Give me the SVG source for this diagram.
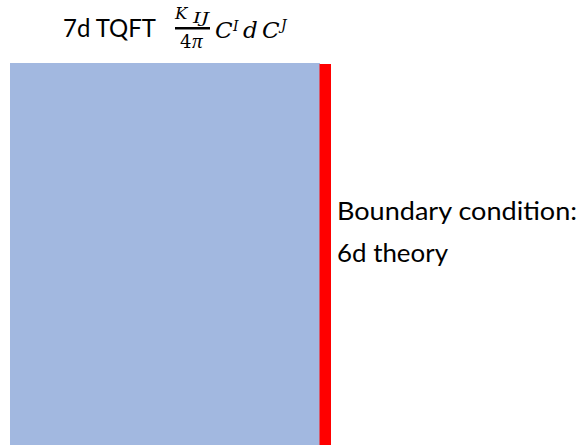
<svg xmlns="http://www.w3.org/2000/svg" width="581" height="445" viewBox="0 0 581 445">
<style>
.lbl{font-family:"Lato","Liberation Sans",sans-serif;font-size:25px;fill:#000}
.m{font-family:"DejaVu Serif","Liberation Serif",serif;font-style:italic;fill:#000}
</style>
<rect width="581" height="445" fill="#fff"/>
<g id="bulk"><rect x="10" y="63" width="310" height="382" fill="#A2B8E0"/></g>
<g id="boundary"><rect x="319.5" y="64" width="11.5" height="381" fill="#FF0000"/></g>
<g id="title">
<text class="lbl" x="63" y="37" textLength="93" lengthAdjust="spacingAndGlyphs">7d TQFT</text>
<text class="m" x="175" y="19.3" font-size="16.5">K</text>
<text class="m" x="193" y="22.7" font-size="14" textLength="16" lengthAdjust="spacingAndGlyphs">IJ</text>
<line x1="175" y1="28.3" x2="210" y2="28.3" stroke="#000" stroke-width="2.5"/>
<text class="m" x="180" y="48.3" font-size="18"><tspan font-style="normal">4</tspan><tspan x="192" font-family="Liberation Serif" font-size="21">π</tspan></text>
<text class="m" x="215" y="37.7" font-size="23">C</text>
<text class="m" x="233" y="31" font-size="14">I</text>
<text class="m" x="243" y="37.7" font-size="23">d</text>
<text class="m" x="262" y="37.7" font-size="23">C</text>
<text class="m" x="281" y="30" font-size="14">J</text>
</g>
<g id="label">
<text class="lbl" x="337" y="220" textLength="240" lengthAdjust="spacingAndGlyphs">Boundary condition:</text>
<text class="lbl" x="337" y="262" textLength="111" lengthAdjust="spacingAndGlyphs">6d theory</text>
</g>
</svg>
